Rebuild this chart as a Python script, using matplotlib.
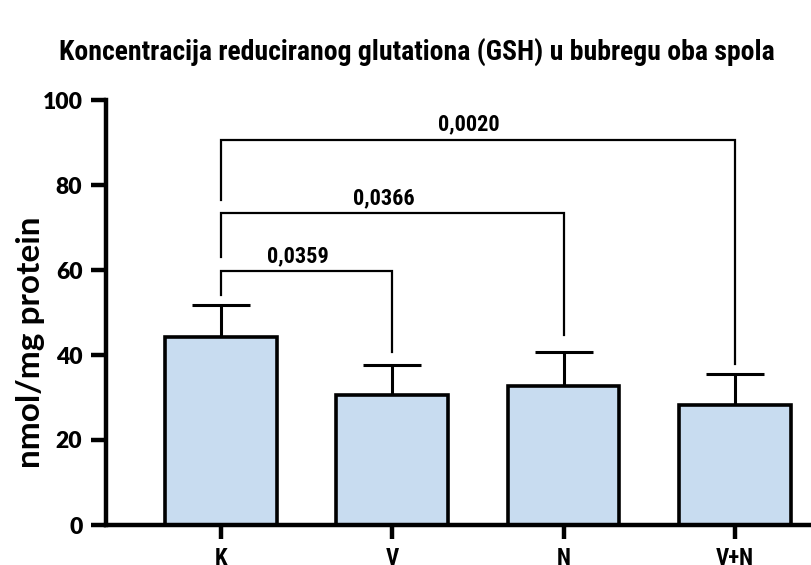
import numpy as np
import matplotlib
matplotlib.use("Agg")
import matplotlib.pyplot as plt

# group means and upper SD values (nmol/mg protein)
groups = ["K", "V", "N", "V+N"]
means = [44.3, 30.6, 32.7, 28.2]
sd = [7.5, 7.0, 8.1, 7.3]

# pairwise comparisons against K: (left group, right group, p-value)
pairs = [(0, 1), (0, 2), (0, 3)]
p_labels = ["0,0359", "0,0366", "0,0020"]
bracket_y = [59.8, 73.3, 90.7]
left_leg_end = [54.1, 63.1, 76.5]
right_leg_end = [40.8, 44.7, 37.9]

narrow = ["Roboto Condensed", "DejaVu Sans"]
round_bold = ["Lato", "DejaVu Sans"]

fig = plt.figure(figsize=(8.12, 5.65), dpi=100)
ax = fig.add_axes([106 / 812, 40 / 565, 1 - 106 / 812, 425 / 565])

x = np.arange(len(groups))
ax.bar(x, means, width=0.65, color="#c8dcf0", edgecolor="black", linewidth=2.6, zorder=2)
ax.errorbar(x, means, yerr=[np.zeros(len(sd)), sd], fmt="none", ecolor="black",
            elinewidth=2.2, capsize=21, capthick=2.2, zorder=1)

for (i, j), label, yb, yl, yr in zip(pairs, p_labels, bracket_y, left_leg_end, right_leg_end):
    ax.plot([i, i, j, j], [yl, yb, yb, yr], color="black", lw=1.6,
            solid_joinstyle="miter", clip_on=False)
    ax.text((i + j) / 2 - 0.05, yb + 2.1, label, ha="center", va="baseline",
            fontsize=16, fontweight="bold", family=narrow)

ax.set_xlim(-0.67, 3.45)
ax.set_ylim(0, 100)
ax.set_xticks(x)
ax.set_xticklabels(groups, fontsize=16.5, fontweight="bold", family=narrow)
ax.set_yticks([0, 20, 40, 60, 80, 100])
ax.set_yticklabels([f"{v:g}" for v in ax.get_yticks()], fontsize=16.5,
                   fontweight="heavy", family=round_bold)

for side in ["top", "right"]:
    ax.spines[side].set_visible(False)
for side in ["left", "bottom"]:
    ax.spines[side].set_linewidth(3.2)
ax.tick_params(axis="y", length=10.5, width=3.2, pad=6.5)
ax.tick_params(axis="x", length=10, width=3.2, pad=5.5)

fig.text(31 / 812, 1 - 342 / 565, "nmol/mg protein", rotation=90, ha="center", va="center",
         fontsize=24, fontweight="bold", family=round_bold)
fig.text(417 / 812, 1 - 60 / 565, "Koncentracija reduciranog glutationa (GSH) u bubregu oba spola",
         ha="center", va="baseline", fontsize=20, fontweight="bold", family=narrow)

fig.savefig("out.png", dpi=100)
